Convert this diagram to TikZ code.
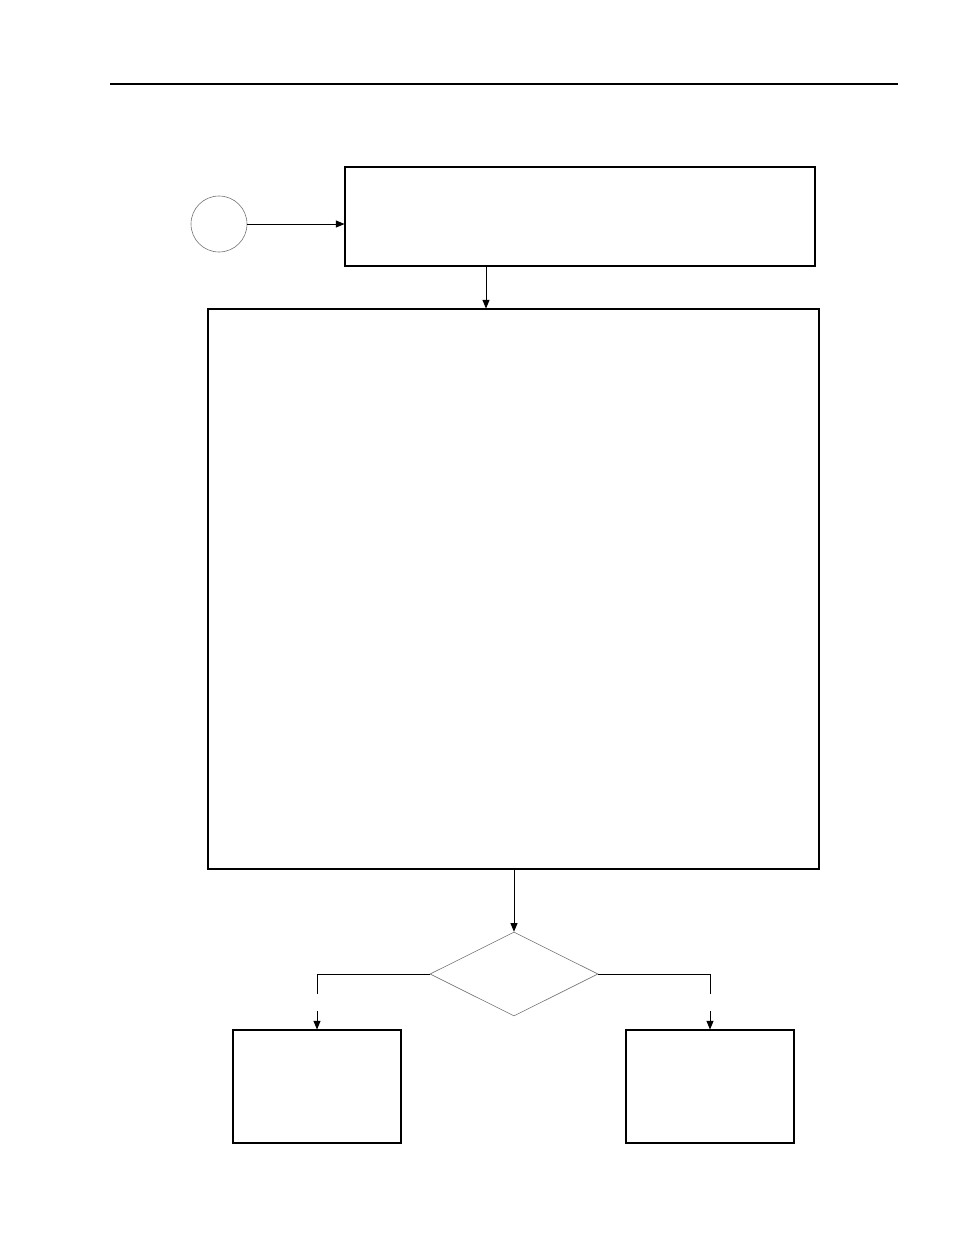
\documentclass[tikz,border=0pt]{standalone}
\usepackage{amsmath, amssymb}
\usetikzlibrary{arrows}
\usetikzlibrary{shapes}

\begin{document}
\begin{tikzpicture}[x = 1pt, y = -1pt, font=\sffamily]
	\tikzstyle{boxStyle}=[shape = rectangle, inner sep = 0pt, draw, line width = 1.1pt]
	\tikzstyle{startStyle}=[shape = circle, minimum size = 56pt, inner sep = 0pt, draw = black!55, line width = 0.6pt]
	\tikzstyle{decisionStyle}=[shape = diamond, minimum width = 168pt, minimum height = 84pt, inner sep = 0pt, draw = black!55, line width = 0.6pt]
	\tikzstyle{flowStyle}=[-triangle 45, line width = 1pt]
	\useasboundingbox (0,0) rectangle (954,1235);
	\coordinate (h0) at (110,84);
	\coordinate (h1) at (898,84);
	\draw[line width = 1.8pt] (h0) -- (h1);
	\node[startStyle] (v0) at (219,224) {};
	\node[boxStyle, minimum width = 470pt, minimum height = 99pt] (v1) at (580,216.5) {};
	\node[boxStyle, minimum width = 611pt, minimum height = 560pt] (v2) at (513.5,589) {};
	\node[decisionStyle] (v3) at (514,974) {};
	\node[boxStyle, minimum width = 168pt, minimum height = 113pt] (v4) at (317,1086.5) {};
	\node[boxStyle, minimum width = 168pt, minimum height = 113pt] (v5) at (710,1086.5) {};
	\coordinate (c0) at (317,994);
	\coordinate (c1) at (317,1011);
	\coordinate (c2) at (710,994);
	\coordinate (c3) at (710,1011);
	\draw[flowStyle] (v0.east) -- (v0.east -| v1.west);
	\draw[flowStyle] (v1.south -| 486,0) -- (v2.north -| 486,0);
	\draw[flowStyle] (v2.south -| v3.north) -- (v3.north);
	\draw[line width = 1pt] (v3.west) -| (c0);
	\draw[flowStyle] (c1) -- (v4.north);
	\draw[line width = 1pt] (v3.east) -| (c2);
	\draw[flowStyle] (c3) -- (v5.north);
\end{tikzpicture}
\end{document}
